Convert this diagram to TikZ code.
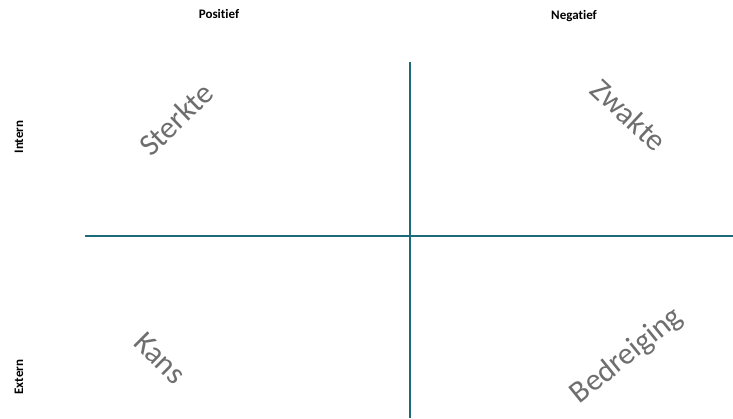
\documentclass[tikz,border=0pt]{standalone}
\usepackage{fontspec}
\setmainfont[Ligatures=NoCommon]{Carlito}
\definecolor{axisteal}{HTML}{1B6B7B}
\definecolor{wordgray}{HTML}{6E6E6E}
\begin{document}
\begin{tikzpicture}[x=1pt,y=-1pt,
  axis/.style={draw=axisteal,line width=1.6pt},
  head/.style={font=\bfseries\fontsize{13}{15}\selectfont,text=black,inner sep=0pt},
  big/.style={font=\fontsize{31}{35}\selectfont,text=wordgray,inner sep=0pt}]
\useasboundingbox[fill=white] (0,0) rectangle (733,418);
\coordinate (vtop) at (410,62);
\coordinate (vbot) at (410,418);
\coordinate (hleft) at (85,236);
\coordinate (hright) at (733,236);
\draw[axis] (vtop) -- (vbot);
\draw[axis] (hleft) -- (hright);
\node[head] (pos) at (219,14) {Positief};
\node[head] (neg) at (574,16) {Negatief};
\node[head,rotate=90] (int) at (19,137) {Intern};
\node[head,rotate=90] (ext) at (19,377) {Extern};
\node[big,rotate=44] (s) at (176,119) {Sterkte};
\node[big,rotate=-43] (z) at (629,115) {Zwakte};
\node[big,rotate=-45] (k) at (160,358) {Kans};
\node[big,rotate=39] (b) at (627,356) {Bedreiging};
\end{tikzpicture}
\end{document}
